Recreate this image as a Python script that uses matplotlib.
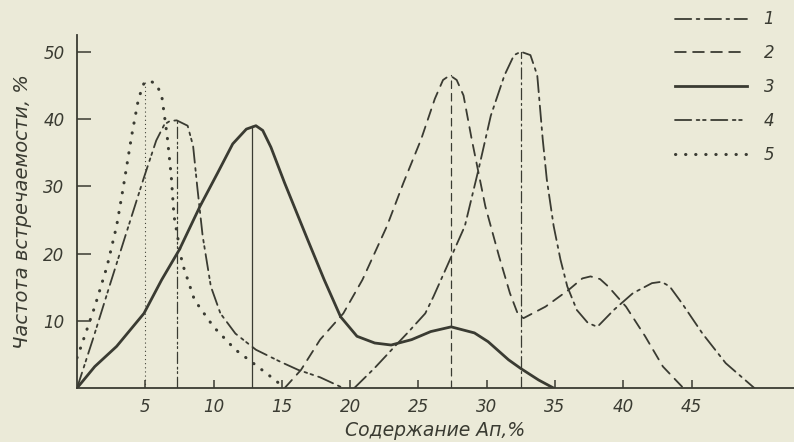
import matplotlib.pyplot as plt
import matplotlib.lines as mlines

# данные: содержание Ап (%) и частота встречаемости (%)
ap_1 = [20.3, 21.8, 23.5, 24.2, 25.5, 26.1, 27.2, 28.4, 29.4, 30.3, 31.3, 32.0, 32.5, 33.2, 33.7, 34.1,
        34.4, 34.9, 35.4, 35.9, 36.6, 37.4, 38.1, 39.3, 40.7, 42.1, 42.8, 43.4, 44.3, 45.8, 47.5, 49.6]
freq_1 = [0, 3.0, 6.7, 8.2, 11.1, 13.6, 18.6, 24.1, 32.5, 40.5, 46.5, 49.5, 50.0, 49.5, 46.5, 37.0,
          31.0, 24.1, 19.1, 15.1, 11.6, 9.7, 9.1, 11.6, 14.1, 15.6, 15.8, 15.1, 12.6, 8.1, 3.7, 0]

ap_2 = [15.2, 16.4, 17.8, 19.5, 20.9, 22.7, 23.9, 25.2, 26.2, 26.8, 27.3, 27.8, 28.3, 28.9, 29.9,
        30.9, 31.7, 32.3, 32.7, 34.3, 36.0, 37.0, 37.6, 38.3, 38.9, 40.2, 41.6, 42.9, 44.4]
freq_2 = [0, 2.7, 7.2, 11.1, 16.1, 24.1, 30.5, 37.0, 43.0, 45.8, 46.5, 45.8, 43.5, 37.0, 27.0,
          19.6, 14.1, 10.9, 10.4, 12.1, 14.6, 16.3, 16.6, 16.2, 15.1, 12.1, 7.7, 3.2, 0]

ap_3 = [0, 1.3, 2.9, 4.9, 6.2, 7.5, 9.0, 10.3, 11.4, 12.4, 13.1, 13.6, 14.2, 15.2, 16.9, 18.1, 19.3,
        20.5, 21.8, 23.0, 24.5, 25.9, 27.4, 29.1, 30.1, 31.6, 32.5, 33.8, 34.9]
freq_3 = [0, 3.2, 6.2, 11.1, 16.1, 20.6, 27.0, 32.0, 36.3, 38.5, 39.0, 38.3, 35.8, 30.5, 22.0, 16.1, 10.6,
          7.7, 6.7, 6.4, 7.2, 8.4, 9.1, 8.2, 6.9, 4.2, 2.9, 1.2, 0]

ap_4 = [0, 1.2, 2.4, 3.6, 4.9, 5.8, 6.4, 6.8, 7.3, 8.1, 8.5, 8.8, 9.2, 9.8, 10.5, 11.6, 13.1,
        14.9, 16.2, 17.8, 19.5]
freq_4 = [0, 7.5, 15.3, 23.0, 31.3, 36.8, 39.2, 39.7, 39.8, 39.0, 36.0, 30.0, 22.6, 15.1, 11.1,
          8.1, 5.7, 3.9, 2.7, 1.6, 0]

ap_5 = [0, 0.3, 1.3, 2.2, 2.9, 3.4, 4.0, 4.5, 4.9, 5.3, 5.8, 6.2, 6.6, 6.9, 7.1, 7.7, 8.6, 10.0,
        11.6, 13.1, 14.5, 15.2]
freq_5 = [4.5, 6.2, 12.1, 18.1, 24.1, 30.0, 37.5, 43.0, 45.3, 45.7, 45.2, 43.5, 37.5, 31.5, 25.6,
          18.6, 13.1, 9.1, 5.7, 3.4, 1.2, 0]

# положение и высота мод (вертикальные линии)
mode_x = [32.5, 27.4, 12.8, 7.3, 5.0]
mode_y = [50.0, 46.5, 39.0, 39.8, 45.7]

labels = ['1', '2', '3', '4', '5']
xticks = [5, 10, 15, 20, 25, 30, 35, 40, 45]
yticks = [10, 20, 30, 40, 50]

bg = '#ebead8'
ink = '#3a3b32'
styles = [
    dict(ls=(0, (9, 3, 1.5, 3)), lw=1.3),
    dict(ls=(0, (6, 4)), lw=1.3),
    dict(ls='-', lw=2.0),
    dict(ls=(0, (9, 3, 1.5, 2, 1.5, 3)), lw=1.3),
    dict(ls=(0, (0.1, 3.2)), lw=2.2),
]

plt.rcParams['font.family'] = 'DejaVu Sans'
plt.rcParams['font.style'] = 'italic'

fig = plt.figure(figsize=(7.94, 4.42), dpi=100, facecolor=bg)
ax = fig.add_axes([0.097, 0.122, 0.903, 0.799], facecolor=bg)

series = [(ap_1, freq_1), (ap_2, freq_2), (ap_3, freq_3), (ap_4, freq_4), (ap_5, freq_5)]
handles = []
for (xs, ys), st, lab in zip(series, styles, labels):
    ax.plot(xs, ys, color=ink, linestyle=st['ls'], linewidth=st['lw'],
            dash_capstyle='round', solid_capstyle='round', solid_joinstyle='round')
    handles.append(mlines.Line2D([], [], color=ink, linestyle=st['ls'], linewidth=st['lw'],
                                 dash_capstyle='round', label=lab))

# вертикальные линии к вершинам
for x, y, st in zip(mode_x, mode_y, styles):
    ax.plot([x, x], [0, y], color=ink, linestyle=st['ls'], linewidth=0.9,
            dash_capstyle='round')

ax.set_xlim(0, 52.5)
ax.set_ylim(0, 52.5)
for s in ['top', 'right']:
    ax.spines[s].set_visible(False)
for s in ['left', 'bottom']:
    ax.spines[s].set_color(ink)
    ax.spines[s].set_linewidth(1.3)

ax.set_xticks(xticks)
ax.set_yticks(yticks)
ax.tick_params(axis='x', direction='in', length=6, width=1.1, colors=ink, labelsize=12, pad=7)
ax.tick_params(axis='y', direction='in', length=10, width=1.1, colors=ink, labelsize=12, pad=9)

ax.set_xlabel('Содержание Ап,%', fontsize=13.5, color=ink, labelpad=4)
ax.set_ylabel('Частота встречаемости, %', fontsize=14, color=ink, labelpad=8)

fig.legend(handles=handles, loc='upper left', bbox_to_anchor=(667 / 794, 1 - 2 / 442),
           frameon=False, borderpad=0, handlelength=4.3, handletextpad=1.0,
           labelspacing=0.95, fontsize=12, labelcolor=ink)

plt.savefig('out.png', dpi=100, facecolor=bg)
